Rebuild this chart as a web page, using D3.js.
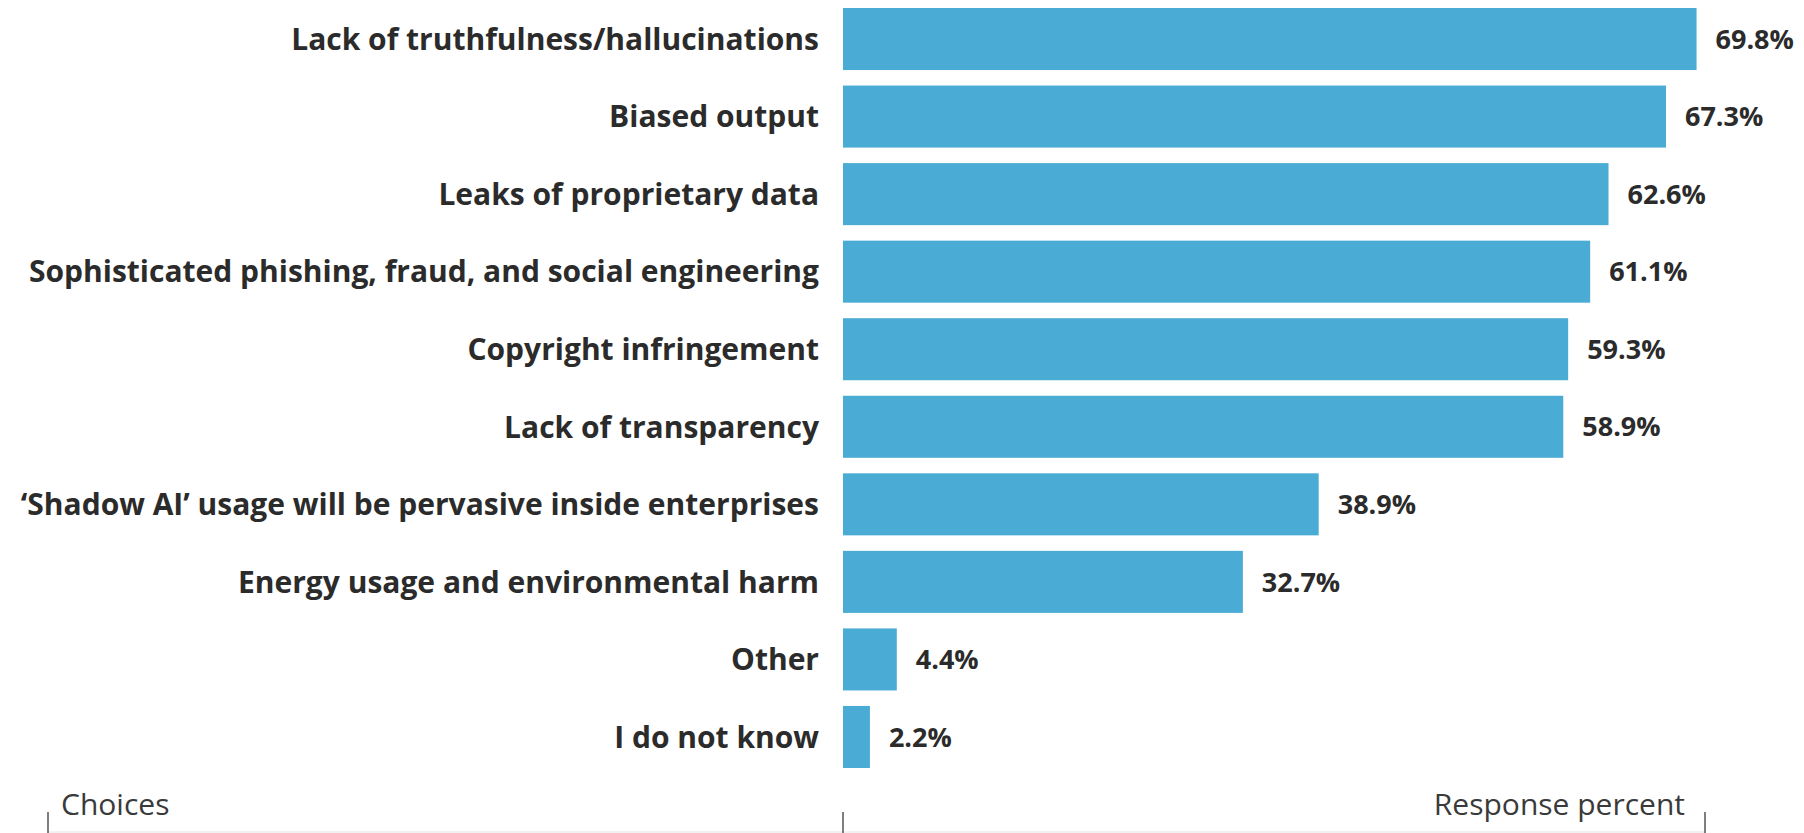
<!DOCTYPE html>
<html><head><meta charset="utf-8">
<script src="https://cdn.jsdelivr.net/npm/d3@7"></script>
<style>
html,body{margin:0;padding:0;background:#fff;}
svg{display:block;}
</style></head>
<body>
<svg id="chart" width="1804" height="833"></svg>
<script>
const categories = [
  "Lack of truthfulness/hallucinations",
  "Biased output",
  "Leaks of proprietary data",
  "Sophisticated phishing, fraud, and social engineering",
  "Copyright infringement",
  "Lack of transparency",
  "\u2018Shadow AI\u2019 usage will be pervasive inside enterprises",
  "Energy usage and environmental harm",
  "Other",
  "I do not know"
];
const values = [69.8, 67.3, 62.6, 61.1, 59.3, 58.9, 38.9, 32.7, 4.4, 2.2];
const axisLabels = ["Choices", "Response percent"];
const xDomain = [0, 70];

const svg = d3.select("#chart");
const font = "'Open Sans', 'Lato', sans-serif";
const barColor = "#4aacd5";
const textColor = "#2b2b2b";

const x = d3.scaleLinear().domain(xDomain).range([843, 1699]);
const y = d3.scaleBand().domain(categories).range([8, 768]).paddingInner(0.2).paddingOuter(0);

const data = categories.map((c, i) => ({c, v: values[i]}));

svg.selectAll("rect.bar").data(data).join("rect")
  .attr("class", "bar")
  .attr("x", x(0))
  .attr("y", d => y(d.c))
  .attr("width", d => x(d.v) - x(0))
  .attr("height", y.bandwidth())
  .attr("fill", barColor);

svg.selectAll("text.cat").data(data).join("text")
  .attr("class", "cat")
  .attr("x", x(0) - 24)
  .attr("y", d => y(d.c) + y.bandwidth() / 2)
  .attr("dy", "0.36em")
  .attr("text-anchor", "end")
  .attr("font-family", font)
  .attr("font-weight", 700)
  .attr("font-size", 30)
  .attr("fill", textColor)
  .text(d => d.c);

svg.selectAll("text.val").data(data).join("text")
  .attr("class", "val")
  .attr("x", d => x(d.v) + 19)
  .attr("y", d => y(d.c) + y.bandwidth() / 2)
  .attr("dy", "0.36em")
  .attr("font-family", font)
  .attr("font-weight", 700)
  .attr("font-size", 27)
  .attr("fill", textColor)
  .text(d => d.v.toFixed(1) + "%");

// bottom frame
svg.append("line").attr("x1", 48).attr("x2", 1705).attr("y1", 832).attr("y2", 832)
  .attr("stroke", "#e4e4e4").attr("stroke-width", 1);
const axisG = svg.append("g").attr("stroke", "#555").attr("stroke-width", 1.5);
axisG.append("line").attr("x1", 48).attr("x2", 48).attr("y1", 812).attr("y2", 833);
axisG.append("line").attr("x1", x(0)).attr("x2", x(0)).attr("y1", 812).attr("y2", 833);
axisG.append("line").attr("x1", x(xDomain[1]) + 6).attr("x2", x(xDomain[1]) + 6).attr("y1", 812).attr("y2", 833);

svg.append("text")
  .attr("x", 61).attr("y", 815)
  .attr("font-family", font).attr("font-size", 30).attr("font-weight", 400)
  .attr("fill", "#3a3a3a")
  .text(axisLabels[0]);
svg.append("text")
  .attr("x", 1685).attr("y", 815)
  .attr("text-anchor", "end")
  .attr("font-family", font).attr("font-size", 30).attr("font-weight", 400)
  .attr("fill", "#3a3a3a")
  .text(axisLabels[1]);
</script>
</body></html>
